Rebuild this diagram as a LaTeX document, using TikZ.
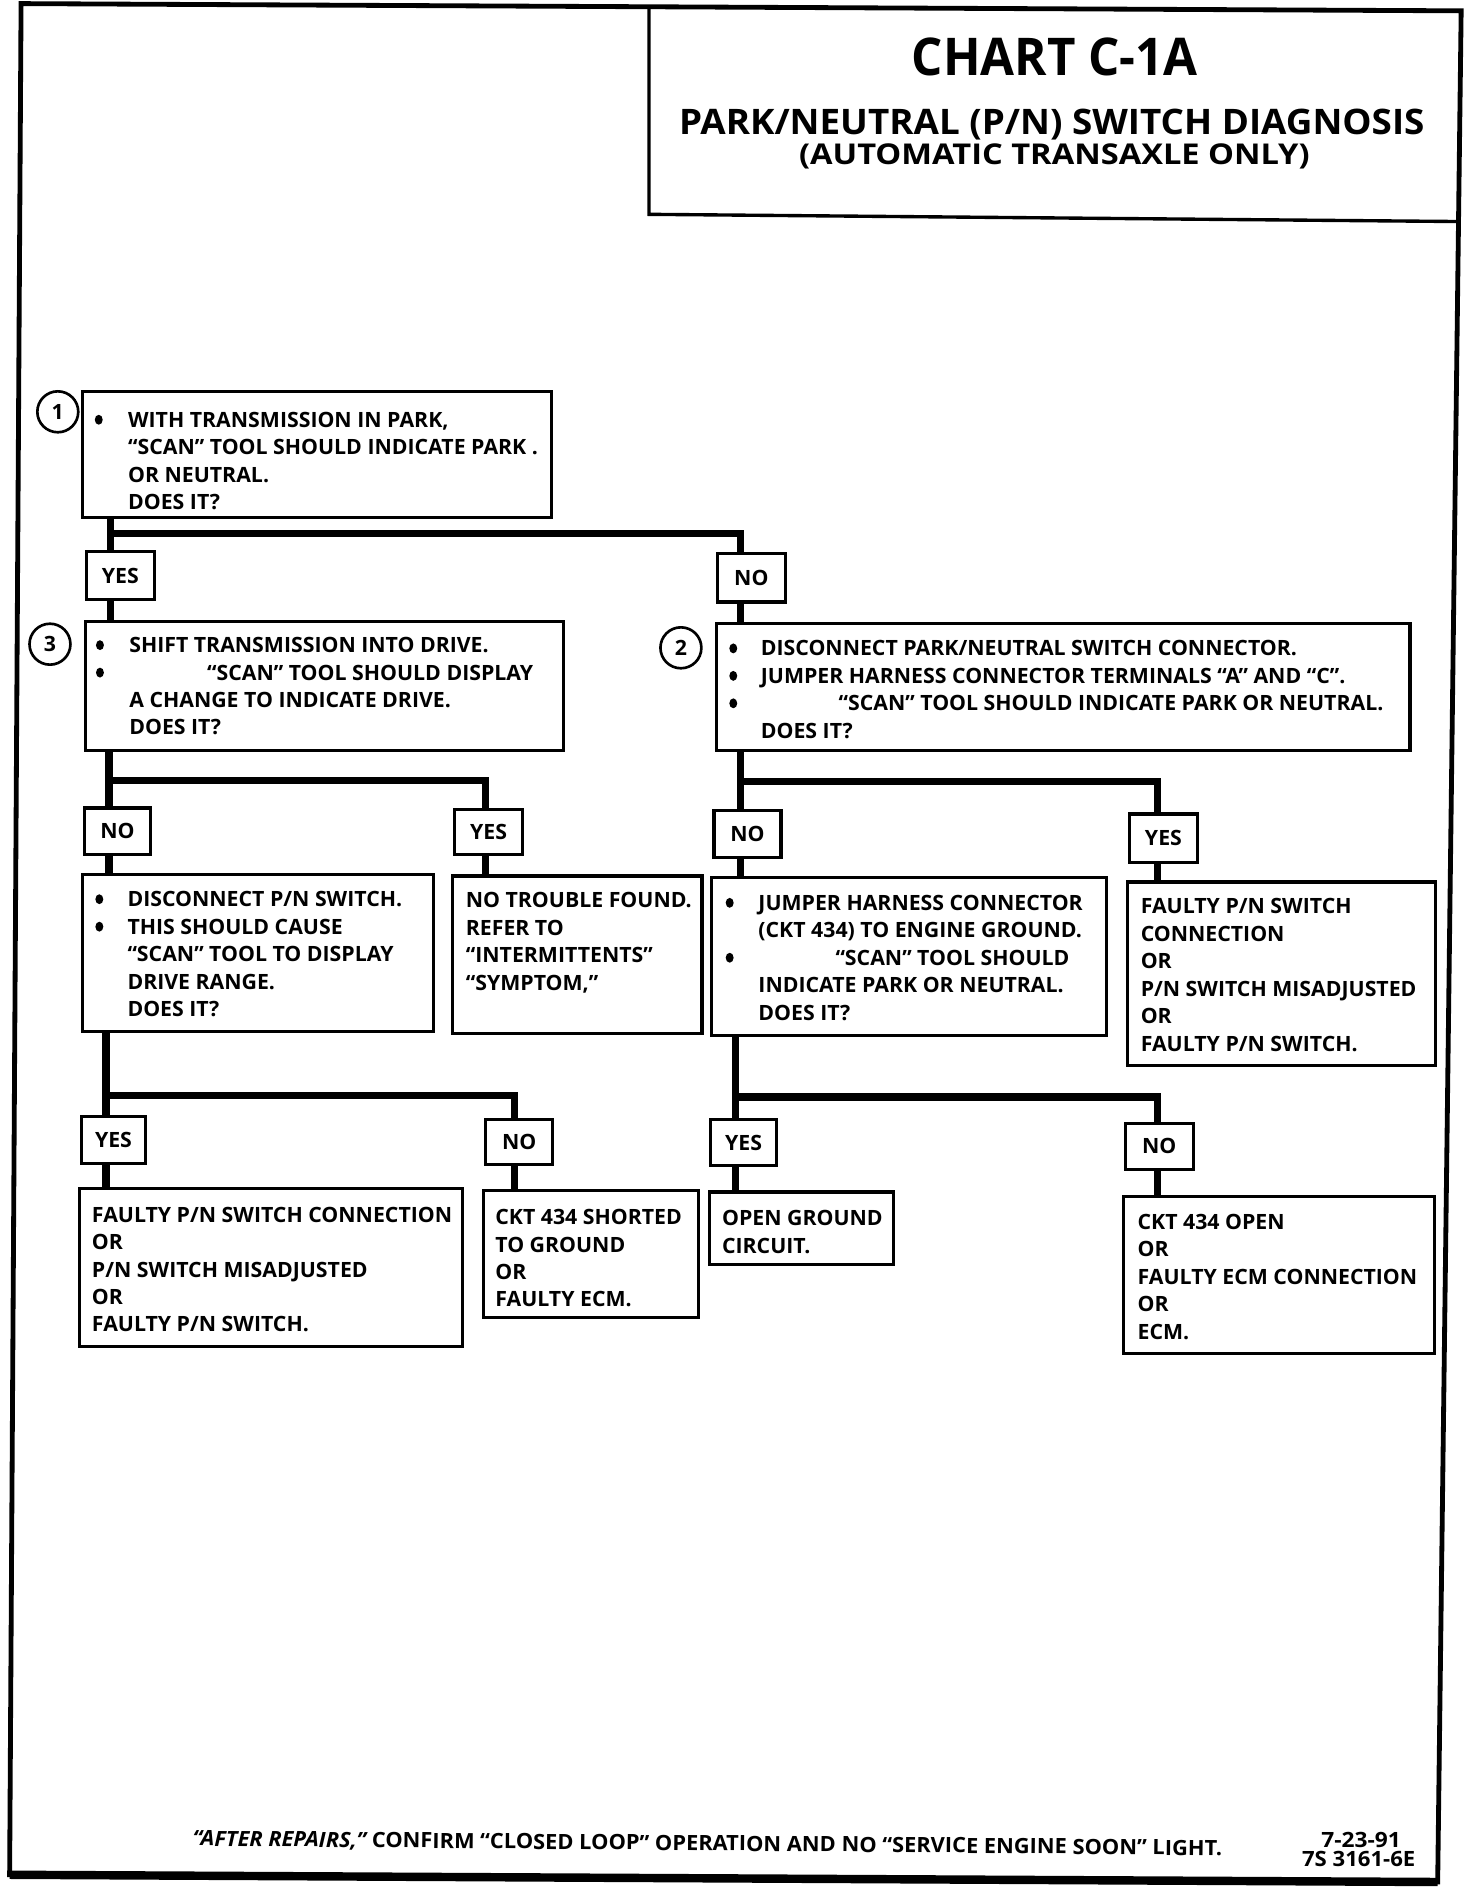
\documentclass[tikz,border=0pt]{standalone}
\usepackage{fontspec}
\setmainfont{Open Sans}[FakeStretch=1.01]
\usepackage{graphicx}
\usetikzlibrary{fit}
\newcommand\bl{\hspace*{13.5pt}}
\newcommand\ind{\hspace*{13.5pt}}
\newcommand\tb[1]{\begin{tabular}[t]{@{}l@{}}#1\end{tabular}}
\newcommand\boxat[5]{\node[box, fit={(#2,#3) (#4,#5)}] (#1) {};}
\tikzset{
  box/.style={draw, line width=1.3pt, inner sep=0pt},
  conn/.style={line width=3pt, line join=miter},
  bul/.style={fill=black},
  txt/.style={anchor=base west, inner sep=0pt, font=\fontsize{8.75}{11.4}\selectfont\bfseries},
  lab/.style={inner sep=0pt, font=\fontsize{8.75}{10}\selectfont\bfseries},
  circ/.style={draw, circle, line width=1.1pt, minimum size=17pt, inner sep=0pt, font=\fontsize{8.75}{10}\selectfont\bfseries},
}
\newcommand\bult[2]{\fill[bul] (#1,#2) ellipse [x radius=1.65pt, y radius=2.05pt];}
\begin{document}
\begin{tikzpicture}[x=0.5pt,y=-0.5pt]
\useasboundingbox (0,0) rectangle (1224,1568);
% outer frame
\draw[line width=2pt, line join=miter] (17.5,3) -- (1213.5,9) -- (1194,1563) -- (8,1557) -- cycle;
\draw[line width=3.5pt] (8,1557) -- (1194,1563);
% title box
\draw[line width=1.4pt] (539,5) -- (539,178) -- (1213,184);
\node[anchor=base, inner sep=0pt] (title) at (876,62.4) {\resizebox{118.75pt}{\height}{\fontsize{21.6}{24}\selectfont\bfseries CHART C-1A}};
\node[anchor=base, inner sep=0pt] (sub1) at (873.5,111.4) {\resizebox{309.5pt}{\height}{\fontsize{14.6}{16}\selectfont\bfseries PARK/NEUTRAL (P/N) SWITCH DIAGNOSIS}};
\node[anchor=base, inner sep=0pt] (sub2) at (875.6,137) {\resizebox{212pt}{\height}{\fontsize{11.9}{14}\selectfont\bfseries (AUTOMATIC TRANSAXLE ONLY)}};

% boxes
\boxat{b1}{68.7}{325.5}{458}{430}
\boxat{yes1}{72}{458}{128}{498}
\boxat{no1}{596}{460}{652}{500}
\boxat{b3}{70.7}{516}{468}{623}
\boxat{b2}{595.4}{518}{1171}{623}
\boxat{no2}{70}{671}{125}{710}
\boxat{yes2}{377.5}{672}{434}{710}
\boxat{b4}{68.7}{726}{360}{857}
\boxat{b5}{376}{727.5}{583}{858}
\boxat{no3}{593}{673}{648.6}{712}
\boxat{yes3}{938}{676}{994.5}{716}
\boxat{b6}{591}{728.5}{919}{860}
\boxat{b7}{936.3}{732.5}{1192}{885}
\boxat{yes4}{67.5}{927}{121}{966}
\boxat{no4}{403.5}{930}{459}{967}
\boxat{b8}{66}{987}{384}{1118}
\boxat{b9}{401.5}{989}{580}{1094}
\boxat{yes5}{590}{930}{645}{968}
\boxat{no5}{934.6}{933}{991}{971}
\boxat{b10}{589.5}{990}{741.8}{1050}
\boxat{b11}{933.4}{994}{1191}{1124}

% numbered circles
\node[circ] (c1) at (48,342) {1};
\node[circ] (c3) at (41.5,535) {3};
\node[circ] (c2) at (565.5,538) {2};

% YES / NO labels
\node[lab] (lyes1) at (yes1.center) {YES};
\node[lab] (lno1) at (no1.center) {NO};
\node[lab] (lno2) at (no2.center) {NO};
\node[lab] (lyes2) at (yes2.center) {YES};
\node[lab] (lno3) at (no3.center) {NO};
\node[lab] (lyes3) at (yes3.center) {YES};
\node[lab] (lyes4) at (yes4.center) {YES};
\node[lab] (lno4) at (no4.center) {NO};
\node[lab] (lyes5) at (yes5.center) {YES};
\node[lab] (lno5) at (no5.center) {NO};

% connectors
\coordinate (j1) at (92,443);
\coordinate (j1r) at (615,443);
\draw[conn] (b1.south -| j1) -- (j1) -- (j1r) -- (no1.north -| j1r);
\draw[conn] (j1) -- (yes1.north -| j1);
\draw[conn] (yes1.south -| j1) -- (b3.north -| j1);
\draw[conn] (no1.south -| j1r) -- (b2.north -| j1r);

\coordinate (j2) at (90.5,648);
\coordinate (j2r) at (403.5,648);
\draw[conn] (b3.south -| j2) -- (j2) -- (j2r) -- (yes2.north -| j2r);
\draw[conn] (j2) -- (no2.north -| j2);
\draw[conn] (no2.south -| j2) -- (b4.north -| j2);
\draw[conn] (yes2.south -| j2r) -- (b5.north -| j2r);

\coordinate (j3) at (615,649);
\coordinate (j3r) at (961.5,649);
\draw[conn] (b2.south -| j3) -- (j3) -- (j3r) -- (yes3.north -| j3r);
\draw[conn] (j3) -- (no3.north -| j3);
\draw[conn] (no3.south -| j3) -- (b6.north -| j3);
\draw[conn] (yes3.south -| j3r) -- (b7.north -| j3r);

\coordinate (j4) at (88,910);
\coordinate (j4r) at (427,910);
\draw[conn] (b4.south -| j4) -- (j4) -- (j4r) -- (no4.north -| j4r);
\draw[conn] (j4) -- (yes4.north -| j4);
\draw[conn] (yes4.south -| j4) -- (b8.north -| j4);
\draw[conn] (no4.south -| j4r) -- (b9.north -| j4r);

\coordinate (j5) at (611,911);
\coordinate (j5r) at (961,911);
\draw[conn] (b6.south -| j5) -- (j5) -- (j5r) -- (no5.north -| j5r);
\draw[conn] (j5) -- (yes5.north -| j5);
\draw[conn] (yes5.south -| j5) -- (b10.north -| j5);
\draw[conn] (no5.south -| j5r) -- (b11.north -| j5r);

% bullets
\bult{82}{348.6}
\bult{83}{535.8}
\bult{83}{558.6}
\bult{609}{538.5}
\bult{609}{561.3}
\bult{609}{584.1}
\bult{82.5}{746.8}
\bult{82.5}{769.6}
\bult{606}{749.8}
\bult{606}{795.4}

% box texts
\node[txt] (t1) at (79,354.8) {\tb{\bl WITH TRANSMISSION IN PARK,\\ \ind “SCAN” TOOL SHOULD INDICATE PARK .\\ \ind OR NEUTRAL.\\ \ind DOES IT?}};
\node[txt] (t3) at (80,542) {\tb{\bl SHIFT TRANSMISSION INTO DRIVE.\\ \bl\hspace*{32.3pt}“SCAN” TOOL SHOULD DISPLAY\\ \ind A CHANGE TO INDICATE DRIVE.\\ \ind DOES IT?}};
\node[txt] (t2) at (604.5,544.7) {\tb{\bl DISCONNECT PARK/NEUTRAL SWITCH CONNECTOR.\\ \bl JUMPER HARNESS CONNECTOR TERMINALS “A” AND “C”.\\ \bl\hspace*{32.3pt}“SCAN” TOOL SHOULD INDICATE PARK OR NEUTRAL.\\ \ind DOES IT?}};
\node[txt] (t4) at (78.5,753) {\tb{\bl DISCONNECT P/N SWITCH.\\ \bl THIS SHOULD CAUSE\\ \ind “SCAN” TOOL TO DISPLAY\\ \ind DRIVE RANGE.\\ \ind DOES IT?}};
\node[txt] (t5) at (386.5,754) {\tb{NO TROUBLE FOUND.\\ REFER TO\\ “INTERMITTENTS”\\ “SYMPTOM,”}};
\node[txt] (t6) at (602.5,756) {\tb{\bl JUMPER HARNESS CONNECTOR\\ \ind (CKT 434) TO ENGINE GROUND.\\ \bl\hspace*{32pt}“SCAN” TOOL SHOULD\\ \ind INDICATE PARK OR NEUTRAL.\\ \ind DOES IT?}};
\node[txt] (t7) at (947,759) {\tb{FAULTY P/N SWITCH\\ CONNECTION\\ OR\\ P/N SWITCH MISADJUSTED\\ OR\\ FAULTY P/N SWITCH.}};
\node[txt] (t8) at (76,1015) {\tb{FAULTY P/N SWITCH CONNECTION\\ OR\\ P/N SWITCH MISADJUSTED\\ OR\\ FAULTY P/N SWITCH.}};
\node[txt] (t9) at (411,1017) {\tb{CKT 434 SHORTED\\ TO GROUND\\ OR\\ FAULTY ECM.}};
\node[txt] (t10) at (599.3,1018) {\tb{OPEN GROUND\\ CIRCUIT.}};
\node[txt] (t11) at (944.4,1021) {\tb{CKT 434 OPEN\\ OR\\ FAULTY ECM CONNECTION\\ OR\\ ECM.}};

% footer
\node[anchor=base, inner sep=0pt, rotate=-0.54] (foot) at (587.5,1537) {\resizebox{427.5pt}{\height}{\fontsize{8.75}{10}\selectfont\bfseries{\itshape “AFTER REPAIRS,”} CONFIRM “CLOSED LOOP” OPERATION AND NO “SERVICE ENGINE SOON” LIGHT.}};
\node[anchor=base west, inner sep=0pt] (date) at (1097,1534) {\resizebox{33pt}{\height}{\fontsize{8.75}{10}\selectfont\bfseries 7-23-91}};
\node[anchor=base west, inner sep=0pt] (code) at (1081,1550) {\resizebox{47pt}{\height}{\fontsize{8.75}{10}\selectfont\bfseries 7S 3161-6E}};
\end{tikzpicture}
\end{document}
